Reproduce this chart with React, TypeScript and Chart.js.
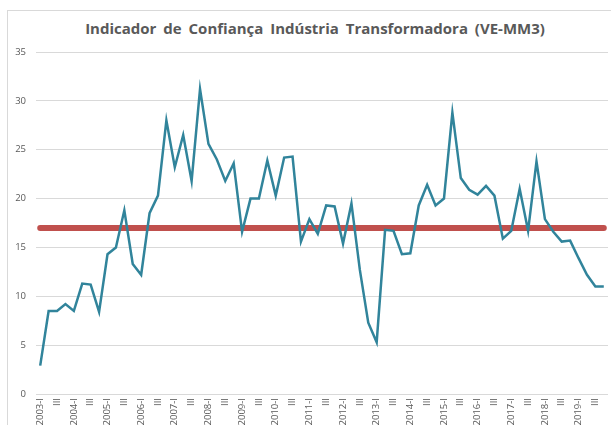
import React, { useEffect, useRef } from "react";
import { Chart, registerables } from "chart.js";

Chart.register(...registerables);

const years = [2003, 2004, 2005, 2006, 2007, 2008, 2009, 2010, 2011, 2012, 2013, 2014, 2015, 2016, 2017, 2018, 2019];
const quarters = ["I", "II", "III", "IV"];
const categories: string[] = years.flatMap((y) => quarters.map((q) => (q === "I" ? `${y}-I` : q)));

const indicador = [
  2.9, 8.5, 8.5, 9.2, 8.5, 11.3, 11.2, 8.4, 14.3, 15.0,
  18.8, 13.3, 12.2, 18.5, 20.3, 28.0, 23.2, 26.5, 21.8, 31.2,
  25.6, 24.0, 21.8, 23.6, 16.6, 20.0, 20.0, 23.9, 20.3, 24.2,
  24.3, 15.6, 17.9, 16.4, 19.3, 19.2, 15.4, 19.5, 12.7, 7.3,
  5.3, 16.8, 16.7, 14.3, 14.4, 19.3, 21.4, 19.3, 20.0, 28.8,
  22.1, 20.9, 20.4, 21.3, 20.3, 15.9, 16.7, 21.0, 16.7, 23.8,
  17.9, 16.6, 15.6, 15.7, 13.9, 12.2, 11.0, 11.0,
];
const mediaValue = 17;
const media = categories.map(() => mediaValue);

const yTicks = [0, 5, 10, 15, 20, 25, 30, 35];
const titleText = "Indicador de Confiança Indústria Transformadora (VE-MM3)";

export default function App() {
  const ref = useRef<HTMLCanvasElement | null>(null);
  useEffect(() => {
    if (!ref.current) return;
    const chart = new Chart(ref.current, {
      type: "line",
      data: {
        labels: categories,
        datasets: [
          {
            label: "Indicador",
            data: indicador,
            borderColor: "#31849B",
            borderWidth: 2.5,
            pointRadius: 0,
            tension: 0,
            order: 1,
          },
          {
            label: "Média",
            data: media,
            borderColor: "#C0504D",
            borderWidth: 6,
            borderCapStyle: "round",
            pointRadius: 0,
            tension: 0,
            order: 2,
          },
        ],
      },
      options: {
        responsive: false,
        animation: false,
        devicePixelRatio: 1,
        layout: { padding: { top: 52, left: 0, right: 3, bottom: 0 } },
        plugins: {
          legend: { display: false },
          tooltip: { enabled: false },
          title: { display: false },
        },
        scales: {
          x: {
            type: "category",
            offset: true,
            grid: { display: false, drawTicks: false },
            border: { display: false },
            afterFit: (s: any) => {
              s.height = 31;
              s.paddingLeft = 0;
              s.paddingRight = 0;
            },
            ticks: {
              autoSkip: false,
              minRotation: 90,
              maxRotation: 90,
              padding: 4,
              color: "#595959",
              font: { family: "Open Sans", size: 9.5 },
              callback: (_v: any, i: number) => (i % 2 === 0 ? categories[i] : ""),
            },
          },
          y: {
            min: 0,
            max: 35,
            afterFit: (s: any) => {
              s.width = 36;
            },
            afterBuildTicks: (s: any) => {
              s.ticks = yTicks.map((v) => ({ value: v }));
            },
            grid: { color: "#D9D9D9", lineWidth: 1, drawTicks: false },
            border: { display: false },
            ticks: {
              padding: 10,
              color: "#595959",
              font: { family: "Open Sans", size: 9.5 },
            },
          },
        },
      },
    } as any);
    return () => chart.destroy();
  }, []);
  return (
    <div style={{ position: "absolute", left: 0, top: 0, width: 611, height: 425, background: "#fff", overflow: "hidden" }}>
      <div
        style={{
          position: "absolute",
          left: 7,
          top: 10,
          width: 640,
          height: 460,
          border: "1px solid #D9D9D9",
        }}
      />
      <div
        style={{
          position: "absolute",
          left: 0,
          top: 18,
          width: 630,
          textAlign: "center",
          fontFamily: "Open Sans",
          fontWeight: "bold",
          fontSize: 15,
          lineHeight: "20px",
          color: "#595959",
          wordSpacing: 3,
          whiteSpace: "nowrap",
        }}
      >
        {titleText}
      </div>
      <canvas ref={ref} width={611} height={425} style={{ position: "absolute", left: 0, top: 0 }} />
    </div>
  );
}
